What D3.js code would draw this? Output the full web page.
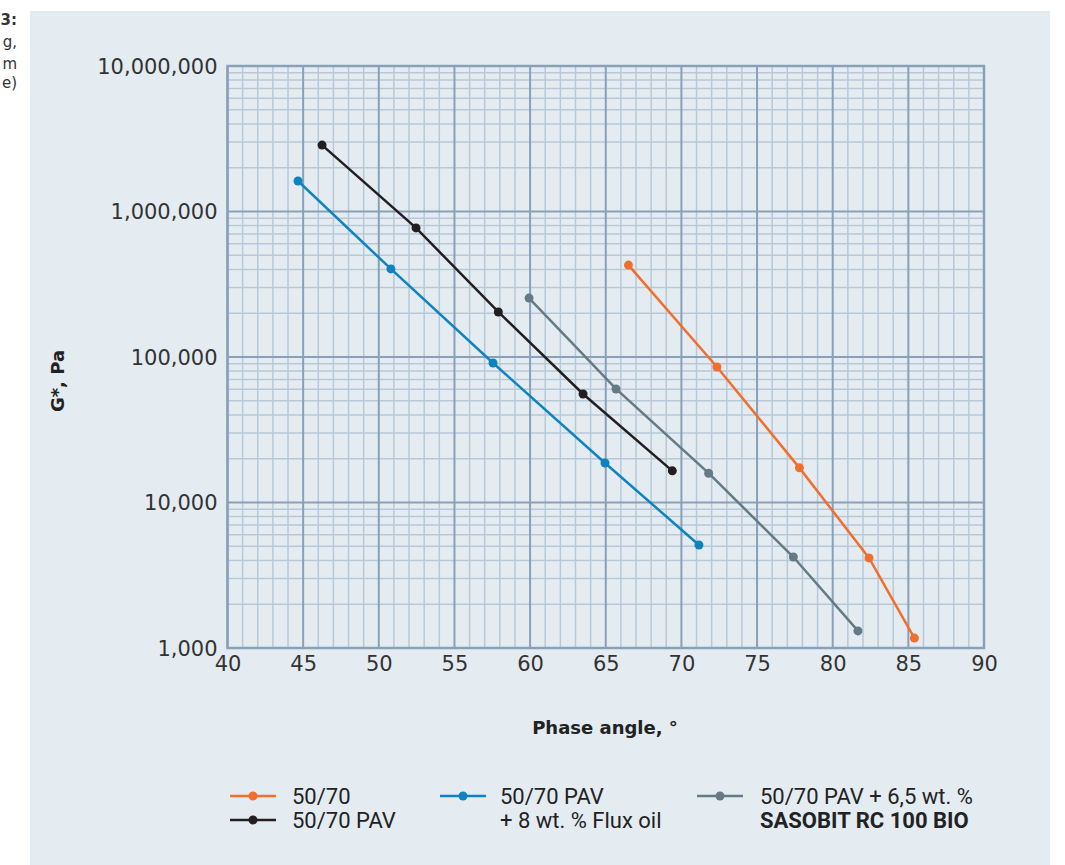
<!DOCTYPE html>
<html>
<head>
<meta charset="utf-8">
<script src="https://cdn.jsdelivr.net/npm/d3@7"></script>
<style>
  body { margin: 0; background: #fff; }
  svg { display: block; }
</style>
</head>
<body>
<svg id="chart"></svg>
<script>
let width = 1065;
let height = 865;

// data
let series = ["50/70", "50/70 PAV", "50/70 PAV + 8 wt. % Flux oil", "50/70 PAV + 6,5 wt. % SASOBIT RC 100 BIO"];
let colors = ["#f26e2c", "#231f20", "#0e83c0", "#657a84"];
let phase5070 = [66.5, 72.35, 77.8, 82.4, 85.4];
let g5070 = [428000, 85400, 17300, 4160, 1170];
let phasePav = [46.25, 52.46, 57.9, 63.5, 69.4];
let gPav = [2860000, 771000, 204000, 55700, 16500];
let phaseFlux = [44.66, 50.8, 57.55, 64.95, 71.16];
let gFlux = [1620000, 403000, 91000, 18700, 5100];
let phaseSaso = [59.93, 65.68, 71.8, 77.4, 81.67];
let gSaso = [254000, 60300, 15900, 4220, 1310];
let xTicks = [40, 45, 50, 55, 60, 65, 70, 75, 80, 85, 90];
let yTicks = [1000, 10000, 100000, 1000000, 10000000];

let data = [
    {name: series[0], color: colors[0], pts: phase5070.map((d, i) => [d, g5070[i]])},
    {name: series[1], color: colors[1], pts: phasePav.map((d, i) => [d, gPav[i]])},
    {name: series[2], color: colors[2], pts: phaseFlux.map((d, i) => [d, gFlux[i]])},
    {name: series[3], color: colors[3], pts: phaseSaso.map((d, i) => [d, gSaso[i]])}
];

let svg = d3.select("#chart")
    .attr("width", width)
    .attr("height", height);

// panel
svg.append("rect")
    .attr("x", 30).attr("y", 11)
    .attr("width", 1020).attr("height", height - 11)
    .attr("fill", "#e4ecf2");

// caption fragments at the left edge
let cap = svg.append("g").attr("font-family", "DejaVu Sans, sans-serif")
    .attr("font-size", 15).attr("fill", "#333").attr("text-anchor", "end");
cap.append("text").attr("x", 17).attr("y", 25).attr("font-weight", "bold").text("3:");
cap.append("text").attr("x", 17).attr("y", 47).text("g,");
cap.append("text").attr("x", 17).attr("y", 69).text("m");
cap.append("text").attr("x", 17).attr("y", 88).text("e)");

let x = d3.scaleLinear().domain([40, 90]).range([227.5, 984]);
let y = d3.scaleLog().domain([1000, 10000000]).range([648, 66]);

let grid = svg.append("g");
// minor vertical
d3.range(41, 90).filter(d => d % 5 != 0).forEach(d => {
    grid.append("line")
        .attr("x1", x(d)).attr("x2", x(d))
        .attr("y1", y.range()[0]).attr("y2", y.range()[1])
        .attr("stroke", "#b7c9d8").attr("stroke-width", 1.5);
});
// minor horizontal
yTicks.slice(0, -1).forEach(dec => {
    d3.range(2, 10).forEach(m => {
        let v = dec * m;
        grid.append("line")
            .attr("x1", x.range()[0]).attr("x2", x.range()[1])
            .attr("y1", y(v)).attr("y2", y(v))
            .attr("stroke", "#b7c9d8").attr("stroke-width", 1.5);
    });
});
// major
xTicks.forEach(d => {
    grid.append("line")
        .attr("x1", x(d)).attr("x2", x(d))
        .attr("y1", y.range()[0]).attr("y2", y.range()[1])
        .attr("stroke", "#88a1b8").attr("stroke-width", 2);
});
yTicks.forEach(d => {
    grid.append("line")
        .attr("x1", x.range()[0]).attr("x2", x.range()[1])
        .attr("y1", y(d)).attr("y2", y(d))
        .attr("stroke", "#88a1b8").attr("stroke-width", 2);
});
grid.append("rect")
    .attr("x", x.range()[0]).attr("y", y.range()[1])
    .attr("width", x.range()[1] - x.range()[0])
    .attr("height", y.range()[0] - y.range()[1])
    .attr("fill", "none").attr("stroke", "#88a1b8").attr("stroke-width", 2.5);

// axes labels
let fmt = d3.format(",");
let yAxis = d3.axisLeft(y).tickValues(yTicks).tickFormat(fmt).tickSize(0).tickPadding(10);
let yg = svg.append("g").attr("transform", `translate(${x.range()[0]},0)`).call(yAxis);
yg.select(".domain").remove();
yg.selectAll("text").attr("font-family", "DejaVu Sans, sans-serif")
    .attr("font-size", 21).attr("fill", "#333").attr("dy", "0.35em");

let xAxis = d3.axisBottom(x).tickValues(xTicks).tickSize(0).tickPadding(8);
let xg = svg.append("g").attr("transform", `translate(0,${y.range()[0]})`).call(xAxis);
xg.select(".domain").remove();
xg.selectAll("text").attr("font-family", "DejaVu Sans, sans-serif")
    .attr("font-size", 21).attr("fill", "#333");

svg.append("text")
    .attr("x", 605).attr("y", 734)
    .attr("text-anchor", "middle")
    .attr("font-family", "DejaVu Sans, sans-serif").attr("font-weight", "bold")
    .attr("font-size", 18).attr("fill", "#222")
    .text("Phase angle, °");
svg.append("text")
    .attr("transform", "translate(64,381) rotate(-90)")
    .attr("text-anchor", "middle")
    .attr("font-family", "DejaVu Sans, sans-serif").attr("font-weight", "bold")
    .attr("font-size", 18).attr("fill", "#222")
    .text("G*, Pa");

// series
let line = d3.line().x(d => x(d[0])).y(d => y(d[1]));
data.forEach(s => {
    let g = svg.append("g");
    g.append("path")
        .attr("d", line(s.pts))
        .attr("fill", "none")
        .attr("stroke", s.color)
        .attr("stroke-width", 2.5);
    g.selectAll("circle")
        .data(s.pts)
        .join("circle")
        .attr("cx", d => x(d[0]))
        .attr("cy", d => y(d[1]))
        .attr("r", 4.5)
        .attr("fill", s.color);
});

// legend
let legendItems = [
    {s: 0, lx: 230, tx: 292, ty: 796, lines: [["50/70", "normal"]]},
    {s: 1, lx: 230, tx: 292, ty: 820, lines: [["50/70 PAV", "normal"]]},
    {s: 2, lx: 440, tx: 500, ty: 796, lines: [["50/70 PAV", "normal"], ["+ 8 wt. % Flux oil", "normal"]]},
    {s: 3, lx: 697, tx: 760, ty: 796, lines: [["50/70 PAV + 6,5 wt. %", "normal"], ["SASOBIT RC 100 BIO", "bold"]]}
];
let lg = svg.append("g");
legendItems.forEach(it => {
    let c = colors[it.s];
    lg.append("line")
        .attr("x1", it.lx).attr("x2", it.lx + 46)
        .attr("y1", it.ty).attr("y2", it.ty)
        .attr("stroke", c).attr("stroke-width", 2.5);
    lg.append("circle")
        .attr("cx", it.lx + 23).attr("cy", it.ty).attr("r", 4.5).attr("fill", c);
    it.lines.forEach((l, i) => {
        lg.append("text")
            .attr("x", it.tx)
            .attr("y", it.ty + i * 24)
            .attr("dy", "0.35em")
            .attr("font-family", "Roboto, sans-serif")
            .attr("font-size", 22)
            .attr("font-weight", l[1])
            .attr("fill", "#222")
            .text(l[0]);
    });
});
</script>
</body>
</html>
